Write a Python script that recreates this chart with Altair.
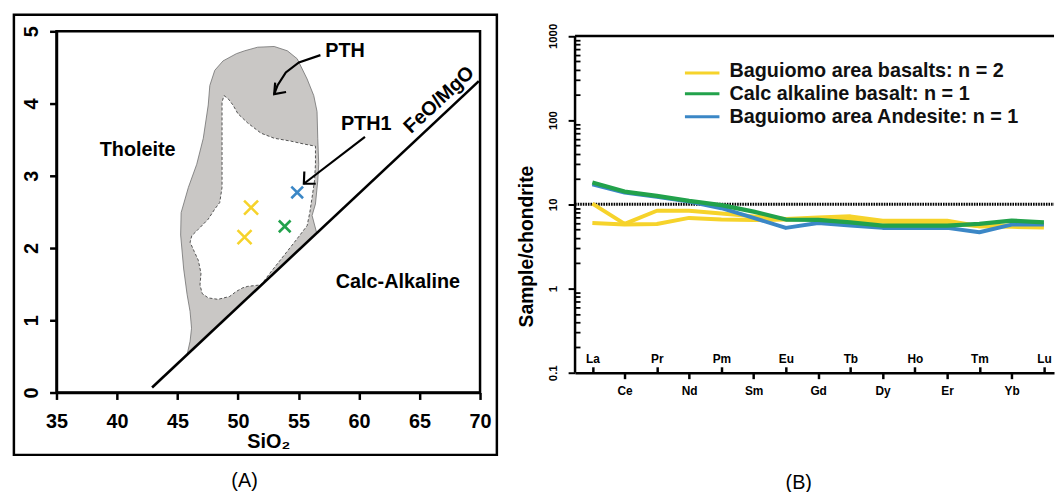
import altair as alt
import pandas as pd

FONT = "Liberation Sans"
YELLOW = "#f6d32b"
GREEN = "#22a24b"
BLUE = "#3b87c6"

# ---------------- Panel A data (SiO2 vs FeO/MgO) ----------------
sio2_ticks = [35, 40, 45, 50, 55, 60, 65, 70]
ratio_ticks = [0, 1, 2, 3, 4, 5]

pth_sio2 = [45.8, 46.04, 46.16, 46.04, 45.79, 45.51, 45.26, 45.30, 45.90, 46.59, 47.13,
            47.54, 47.67, 48.08, 48.76, 49.86, 50.54, 51.62, 52.99, 54.08, 54.89, 55.71,
            56.26, 56.53, 56.59, 56.67, 56.59, 56.40, 56.12, 56.5, 45.8]
pth_ratio = [0.53, 0.71, 0.89, 1.12, 1.36, 1.71, 2.18, 2.49, 2.84, 3.16, 3.52,
             3.98, 4.25, 4.46, 4.59, 4.69, 4.73, 4.78, 4.79, 4.73, 4.62, 4.34,
             4.11, 3.89, 3.52, 3.16, 2.93, 2.61, 2.45, 2.21, 0.53]

pth1_sio2 = [48.84, 49.17, 49.58, 49.99, 50.81, 51.90, 52.99, 54.36, 55.44, 56.40, 56.40,
             56.32, 56.12, 55.93, 55.71, 54.89, 53.81, 52.72, 51.90, 50.81, 50.40, 49.86,
             49.31, 48.35, 47.54, 47.04, 46.86, 46.94, 46.72, 46.39, 46.04, 46.18, 46.72,
             47.54, 48.08, 48.49, 48.68, 48.68, 48.68, 48.68, 48.84]
pth1_ratio = [4.11, 4.07, 3.98, 3.86, 3.73, 3.59, 3.52, 3.48, 3.44, 3.41, 3.16,
              2.93, 2.70, 2.49, 2.31, 2.13, 1.90, 1.67, 1.49, 1.47, 1.45, 1.40,
              1.33, 1.29, 1.31, 1.37, 1.49, 1.65, 1.83, 1.95, 2.08, 2.17, 2.26,
              2.40, 2.54, 2.63, 2.84, 3.29, 3.75, 4.02, 4.11]

divider_sio2 = [42.9, 69.9]
divider_ratio = [0.07, 4.31]

sample_group = ["basalt", "basalt", "calc", "andesite"]
sample_sio2 = [51.08, 50.54, 53.86, 54.89]
sample_ratio = [2.56, 2.15, 2.30, 2.77]

arrow_part = ["pth_shaft"] * 5 + ["pth_head"] * 3 + ["pth1_shaft"] * 2 + ["pth1_head"] * 3
arrow_sio2 = [56.81, 55.03, 53.95, 53.26, 52.99, 53.07, 52.99, 53.97,
              60.49, 55.44, 55.48, 55.44, 56.42]
arrow_ratio = [4.67, 4.57, 4.43, 4.25, 4.13, 4.29, 4.13, 4.16,
               3.54, 2.89, 3.06, 2.89, 2.89]

region_labels = ["PTH", "PTH1", "Tholeite", "Calc-Alkaline"]
region_label_sio2 = [58.85, 60.59, 41.71, 63.21]
region_label_ratio = [4.72, 3.72, 3.36, 1.53]

# ---------------- Panel B data (REE / chondrite) ----------------
ree = ["La", "Ce", "Pr", "Nd", "Pm", "Sm", "Eu", "Gd", "Tb", "Dy", "Ho", "Er", "Tm", "Yb", "Lu"]
basalt_1 = [10.2, 5.85, 8.4, 8.4, 7.8, 7.2, 6.7, 7.0, 7.2, 6.4, 6.4, 6.4, 5.5, 5.4, 5.3]
basalt_2 = [6.0, 5.75, 5.85, 6.9, 6.6, 6.5, 6.6, 6.8, 6.6, 6.2, 6.0, 6.0, 5.5, 5.6, 5.6]
calc_alk = [18.2, 14.2, 12.6, 11.0, 9.8, 8.2, 6.6, 6.55, 6.1, 5.6, 5.6, 5.6, 5.85, 6.4, 6.1]
andesite = [17.3, 13.8, 12.3, 10.8, 9.0, 6.9, 5.25, 6.0, 5.6, 5.25, 5.25, 5.25, 4.66, 5.75, 5.75]
decade_ticks = [0.1, 1, 10, 100, 1000]
minor_ticks = [m * d for d in [0.1, 1, 10, 100] for m in range(2, 10)]
legend_labels = ["Baguiomo area basalts: n = 2", "Calc alkaline basalt: n = 1",
                 "Baguiomo area Andesite: n = 1"]

# ---------------- layout constants ----------------
A_FRAME = dict(x=31.48, x2=71.39, y=-0.863, y2=5.23)
A_TAG = dict(x=50.54, y=-1.23)
FEO_LABEL = dict(x=66.62, y=4.05)
B_WIDTH = 484
XB_MIN, XB_MAX = -0.537, 14.314
YB_MAX = 1135
LEG_LINE_X = (2.87, 3.94)
LEG_TEXT_X = 4.25
LEG_LINE_Y = [364, 206, 109.6]
LEG_TEXT_Y = [329.6, 171.9, 91.4]
B_TAG = dict(x=6.40, y=0.00491)

# ================= Panel A =================
xa = alt.Scale(domain=[35, 70], nice=False, zero=False)
ya = alt.Scale(domain=[0, 5], nice=False, zero=False)

x_axis_a = alt.Axis(values=sio2_ticks, title="SiO₂", tickSize=7, tickWidth=2.5, domainWidth=2.5,
                    labelFontSize=20, labelFontWeight="bold", labelPadding=12, labelOverlap=False,
                    labelFlush=False, titleFontSize=20, titleFontWeight="bold",
                    titleBaseline="alphabetic", titleY=56, grid=False)
y_axis_a = alt.Axis(values=ratio_ticks, title=None, tickSize=7, tickWidth=2.5, domainWidth=2.5,
                    labelFontSize=20, labelFontWeight="bold", labelAngle=270, labelAlign="center",
                    labelBaseline="bottom", labelPadding=8, labelOverlap=False, labelFlush=False,
                    grid=False)


def xa_enc():
    return alt.X("x:Q", scale=xa, axis=x_axis_a, title="SiO₂")


def ya_enc():
    return alt.Y("y:Q", scale=ya, axis=y_axis_a, title=None)


frame_df = pd.DataFrame([A_FRAME])
frame = alt.Chart(frame_df).mark_rect(fillOpacity=0, stroke="black", strokeWidth=2.5).encode(
    x=xa_enc(), x2="x2:Q", y=ya_enc(), y2="y2:Q")

pth_df = pd.DataFrame({"x": pth_sio2, "y": pth_ratio, "i": range(len(pth_sio2))})
gray = alt.Chart(pth_df).mark_line(fill="#c9c7c5", stroke="#707070", strokeWidth=0.8).encode(
    x=xa_enc(), y=ya_enc(), order="i:Q")

pth1_df = pd.DataFrame({"x": pth1_sio2, "y": pth1_ratio, "i": range(len(pth1_sio2))})
white = alt.Chart(pth1_df).mark_line(fill="white", stroke="#444444", strokeWidth=0.9,
                                     strokeDash=[3, 2]).encode(x=xa_enc(), y=ya_enc(), order="i:Q")

div_df = pd.DataFrame({"x": divider_sio2, "y": divider_ratio, "i": [0, 1]})
divider = alt.Chart(div_df).mark_line(color="black", strokeWidth=2.6).encode(
    x=xa_enc(), y=ya_enc(), order="i:Q")

arr_df = pd.DataFrame({"x": arrow_sio2, "y": arrow_ratio, "part": arrow_part,
                       "i": range(len(arrow_sio2))})
arrows = alt.Chart(arr_df).mark_line(color="black", strokeWidth=2.2).encode(
    x=xa_enc(), y=ya_enc(), detail="part:N", order="i:Q")

smp_df = pd.DataFrame({"x": sample_sio2, "y": sample_ratio, "group": sample_group})
markers = alt.Chart(smp_df).mark_point(shape="M-1,-1L1,1M1,-1L-1,1", filled=False,
                                       strokeWidth=2.6, opacity=1).encode(
    x=xa_enc(), y=ya_enc(),
    color=alt.Color("group:N", scale=alt.Scale(domain=["basalt", "calc", "andesite"],
                                               range=[YELLOW, GREEN, BLUE]), legend=None),
    size=alt.condition(alt.datum.group == "basalt", alt.value(200), alt.value(140)))

lab_df = pd.DataFrame({"x": region_label_sio2, "y": region_label_ratio, "t": region_labels})
labels_a = alt.Chart(lab_df).mark_text(fontSize=20, fontWeight="bold", color="black",
                                       align="center", baseline="middle").encode(
    x=xa_enc(), y=ya_enc(), text="t:N")

feo_df = pd.DataFrame([dict(FEO_LABEL, t="FeO/MgO")])
feo = alt.Chart(feo_df).mark_text(fontSize=20, fontWeight="bold", color="black", angle=317,
                                  align="center", baseline="middle").encode(
    x=xa_enc(), y=ya_enc(), text="t:N")

atag_df = pd.DataFrame([dict(A_TAG, t="(A)")])
atag = alt.Chart(atag_df).mark_text(fontSize=20, color="black", align="center",
                                    baseline="middle").encode(x=xa_enc(), y=ya_enc(), text="t:N")

panel_a = alt.layer(frame, gray, white, divider, arrows, markers, labels_a, feo, atag).properties(
    width=428, height=365,
    view=alt.ViewBackground(stroke="black", strokeWidth=2.5, strokeOpacity=1))

# ================= Panel B =================
xb = alt.Scale(domain=[XB_MIN, XB_MAX], nice=False, zero=False)
yb = alt.Scale(type="log", domain=[0.1, YB_MAX], nice=False)
ree_expr = "[" + ",".join("'%s'" % e for e in ree) + "][datum.value]"

x_axis_b = alt.Axis(orient="bottom", values=list(range(1, 15, 2)), labelExpr=ree_expr,
                    tickSize=6, tickWidth=2.5, domainWidth=2.5, labelFontSize=12,
                    labelFontWeight="bold", labelPadding=7, labelOverlap=False, labelFlush=False,
                    grid=False, title=None)
x_axis_b_top = alt.Axis(orient="top", offset=-345, values=list(range(0, 15, 2)),
                        labelExpr=ree_expr, domain=False, tickSize=6, tickWidth=2.5,
                        labelFontSize=12, labelFontWeight="bold", labelPadding=1,
                        labelOverlap=False, labelFlush=False, grid=False, title=None)
y_axis_b = alt.Axis(orient="left", values=decade_ticks, format="~g", labelAngle=270,
                    labelAlign="center", labelBaseline="bottom", labelFontSize=11.5,
                    labelFontWeight="bold", labelPadding=10, labelOverlap=False,
                    labelFlush=False, tickSize=7, tickWidth=2, domain=False, grid=False,
                    title="Sample/chondrite", titleFontSize=19.5, titleFontWeight="bold",
                    titleAngle=270, titleAlign="center", titleBaseline="alphabetic",
                    titleX=-43, titleY=217)
y_axis_b_minor = alt.Axis(orient="right", offset=-B_WIDTH, values=minor_ticks, labels=False,
                          domain=False, tickSize=5, tickWidth=1.8, grid=False, title=None)


def xb_enc(axis=None):
    return alt.X("x:Q", scale=xb, axis=axis)


def yb_enc(axis=None):
    return alt.Y("y:Q", scale=yb, axis=axis)


ref_df = pd.DataFrame({"x": [XB_MIN], "x2": [XB_MAX], "y": [10]})
dotted = alt.Chart(ref_df).mark_rule(color="black", strokeWidth=3, strokeDash=[1.6, 1]).encode(
    x=xb_enc(x_axis_b), x2="x2:Q", y=yb_enc(y_axis_b))

top_df = pd.DataFrame({"x": [XB_MIN], "x2": [XB_MAX], "y": [1000]})
top_line = alt.Chart(top_df).mark_rule(color="black", strokeWidth=2.5).encode(
    x=xb_enc(x_axis_b_top), x2="x2:Q", y=yb_enc(y_axis_b_minor))

left_df = pd.DataFrame({"x": [XB_MIN], "y": [0.1], "y2": [1000]})
left_line = alt.Chart(left_df).mark_rule(color="black", strokeWidth=2.5).encode(
    x=xb_enc(), y=yb_enc(), y2="y2:Q")

rows = []
for name, grp, vals in [("b1", "basalt", basalt_1), ("b2", "basalt", basalt_2),
                        ("calc", "calc", calc_alk), ("and", "andesite", andesite)]:
    for i, v in enumerate(vals):
        rows.append({"x": i, "y": v, "series": name, "group": grp})
ree_df = pd.DataFrame(rows)


def series_layer(grp, color, width):
    return alt.Chart(ree_df).transform_filter(alt.datum.group == grp).mark_line(
        color=color, strokeWidth=width, strokeJoin="round").encode(
        x=xb_enc(), y=yb_enc(), detail="series:N")


lines_b = [series_layer("basalt", YELLOW, 4), series_layer("andesite", BLUE, 4),
           series_layer("calc", GREEN, 4.3)]

leg_df = pd.DataFrame({"x": [LEG_LINE_X[0]] * 3, "x2": [LEG_LINE_X[1]] * 3, "y": LEG_LINE_Y,
                       "grp": ["basalt", "calc", "andesite"]})
leg_lines = alt.Chart(leg_df).mark_rule(strokeWidth=3).encode(
    x=xb_enc(), x2="x2:Q", y=yb_enc(),
    color=alt.Color("grp:N", scale=alt.Scale(domain=["basalt", "calc", "andesite"],
                                             range=[YELLOW, GREEN, BLUE]), legend=None))
legt_df = pd.DataFrame({"x": [LEG_TEXT_X] * 3, "y": LEG_TEXT_Y, "t": legend_labels})
leg_text = alt.Chart(legt_df).mark_text(fontSize=20, fontWeight="bold", color="#111111",
                                        align="left", baseline="alphabetic").encode(
    x=xb_enc(), y=yb_enc(), text="t:N")

btag_df = pd.DataFrame([dict(B_TAG, t="(B)")])
btag = alt.Chart(btag_df).mark_text(fontSize=20, color="black", align="center",
                                    baseline="middle").encode(x=xb_enc(), y=yb_enc(), text="t:N")

panel_b = alt.layer(dotted, top_line, left_line, *lines_b, leg_lines, leg_text, btag).resolve_axis(
    x="independent", y="independent").properties(
    width=B_WIDTH, height=345, view=alt.ViewBackground(strokeOpacity=0))

chart = alt.hconcat(panel_a, panel_b, spacing=17).properties(
    padding={"left": 3, "top": 1, "right": 0, "bottom": 0}
).configure(font=FONT).configure_axis(
    labelColor="black", titleColor="black", domainColor="black", tickColor="black",
    labelFont=FONT, titleFont=FONT, labelFontWeight="bold", titleFontWeight="bold"
).configure_view(strokeOpacity=0)

chart.save("out.html", embed_options={"renderer": "svg", "actions": False})
